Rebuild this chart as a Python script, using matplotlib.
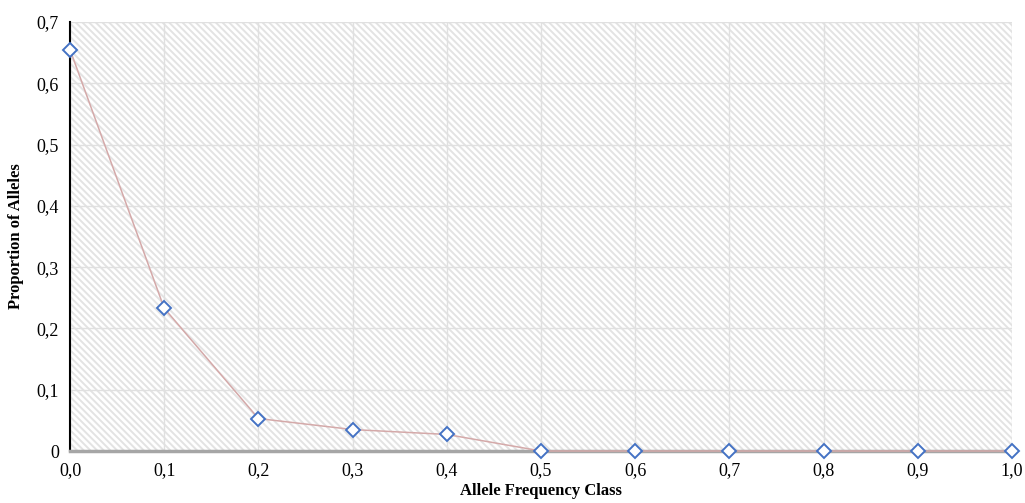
import matplotlib.pyplot as plt
import matplotlib as mpl

# data
freq_class = [0.0, 0.1, 0.2, 0.3, 0.4, 0.5, 0.6, 0.7, 0.8, 0.9, 1.0]
proportion = [0.655, 0.233, 0.053, 0.035, 0.027, 0.0, 0.0, 0.0, 0.0, 0.0, 0.0]
x_ticks = [0.0, 0.1, 0.2, 0.3, 0.4, 0.5, 0.6, 0.7, 0.8, 0.9, 1.0]
y_ticks = [0.0, 0.1, 0.2, 0.3, 0.4, 0.5, 0.6, 0.7]

plt.rcParams['font.family'] = ['Liberation Serif', 'DejaVu Serif']
plt.rcParams['hatch.color'] = '#e3e3e3'
plt.rcParams['hatch.linewidth'] = 1.4

fig = plt.figure(figsize=(10.25, 5.03), dpi=100)
ax = fig.add_axes([70 / 1025, 1 - 451 / 503, 942 / 1025, 429 / 503])

# hatched plot background
ax.patch.set_facecolor('white')
ax.patch.set_hatch('\\\\\\\\\\')
ax.patch.set_edgecolor('#e3e3e3')
ax.patch.set_linewidth(0)

ax.set_xlim(0, 1.0)
ax.set_ylim(0, 0.7)
ax.set_xticks(x_ticks)
ax.set_yticks(y_ticks)
ax.set_xticklabels([('%.1f' % v).replace('.', ',') for v in x_ticks])
ax.set_yticklabels(['0' if v == 0 else ('%.1f' % v).replace('.', ',') for v in y_ticks])
ax.tick_params(length=0, labelsize=13, pad=8)

ax.grid(True, color='#e0e0e0', linewidth=1.0)
ax.set_axisbelow(True)

for s in ['top', 'right']:
    ax.spines[s].set_visible(False)
ax.spines['left'].set_color('black')
ax.spines['left'].set_linewidth(1.5)
ax.spines['bottom'].set_color('#a6a6a6')
ax.spines['bottom'].set_linewidth(2.5)

ax.plot(freq_class, proportion, color='#d4a9a9', linewidth=1.1,
        marker='D', markersize=7, markerfacecolor='white',
        markeredgecolor='#4472c4', markeredgewidth=1.4, clip_on=False, zorder=5)

ax.set_xlabel('Allele Frequency Class', fontweight='bold', fontsize=12, labelpad=3)
ax.set_ylabel('Proportion of Alleles', fontweight='bold', fontsize=12, labelpad=9)

fig.savefig('out.png', dpi=100)
